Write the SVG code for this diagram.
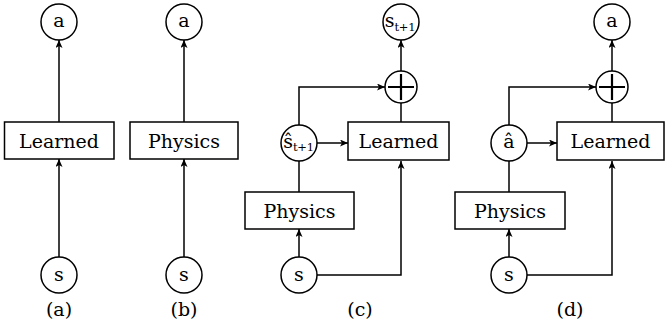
<svg xmlns="http://www.w3.org/2000/svg" width="665" height="328" viewBox="0 0 665 328">
<style>
.n{fill:#fff;stroke:#000;stroke-width:1.5}
.t{font-family:"DejaVu Serif","Liberation Serif",serif;font-size:19px;fill:#000;text-anchor:middle}
.sub{font-size:11.5px;letter-spacing:-0.3px}
.c{fill:none;stroke:#000;stroke-width:1.5}
.a{marker-end:url(#ah)}
.p{stroke:#000;stroke-width:2.2}
</style>
<defs>
<marker id="ah" viewBox="0 0 8 7" refX="8" refY="3.5" markerWidth="8" markerHeight="7" markerUnits="userSpaceOnUse" orient="auto">
<path d="M0,0 L8,3.5 L0,7 L2,3.5 z" fill="#000"/>
</marker>
</defs>
<g id="connectors">
<path class="c a" d="M59,122 V40"/>
<path class="c a" d="M59,257 V159"/>
<path class="c a" d="M184,122 V40"/>
<path class="c a" d="M184,257 V159"/>
<path class="c a" d="M299,257 V229"/>
<path class="c a" d="M299,192 V125"/>
<path class="c a" d="M317,143 H348"/>
<path class="c a" d="M299,125 V87 H385"/>
<path class="c" d="M401,122 V103"/>
<path class="c a" d="M401,71 V40"/>
<path class="c a" d="M317,275 H401 V161"/>
<path class="c a" d="M509,257 V229"/>
<path class="c a" d="M509,192 V125"/>
<path class="c a" d="M527,143 H557"/>
<path class="c a" d="M509,125 V87 H596"/>
<path class="c" d="M612,122 V103"/>
<path class="c a" d="M612,71 V40"/>
<path class="c a" d="M527,275 H612 V161"/>
</g>
<g id="a-out"><circle class="n" cx="59" cy="22" r="18"/><text class="t" x="59" y="27">a</text></g>
<g id="a-learned"><rect class="n" x="4.5" y="122" width="109.5" height="37"/><text class="t" x="59" y="148">Learned</text></g>
<g id="a-s"><circle class="n" cx="59" cy="275" r="18"/><text class="t" x="59" y="281">s</text></g>
<text class="t" x="59" y="316">(a)</text>
<g id="b-out"><circle class="n" cx="184" cy="22" r="18"/><text class="t" x="184" y="27">a</text></g>
<g id="b-physics"><rect class="n" x="130" y="122" width="108" height="37"/><text class="t" x="184" y="148">Physics</text></g>
<g id="b-s"><circle class="n" cx="184" cy="275" r="18"/><text class="t" x="184" y="281">s</text></g>
<text class="t" x="184" y="316">(b)</text>
<g id="c-out"><circle class="n" cx="401" cy="22" r="18"/><text class="t" x="400" y="27">s<tspan class="sub" dy="4">t+1</tspan></text></g>
<g id="c-plus"><circle class="n" cx="401" cy="87" r="16"/><path class="p" d="M388,87 H414 M401,74 V100"/></g>
<g id="c-learned"><rect class="n" x="348" y="122" width="101" height="38"/><text class="t" x="398.5" y="148">Learned</text></g>
<g id="c-shat"><circle class="n" cx="299" cy="143" r="18"/><text class="t" x="298.5" y="148">ŝ<tspan class="sub" dy="3">t+1</tspan></text></g>
<g id="c-physics"><rect class="n" x="245" y="192" width="109" height="37"/><text class="t" x="299.5" y="218">Physics</text></g>
<g id="c-s"><circle class="n" cx="299" cy="275" r="18"/><text class="t" x="299" y="281">s</text></g>
<text class="t" x="360" y="316">(c)</text>
<g id="d-out"><circle class="n" cx="612" cy="22" r="18"/><text class="t" x="612" y="27">a</text></g>
<g id="d-plus"><circle class="n" cx="612" cy="87" r="16"/><path class="p" d="M599,87 H625 M612,74 V100"/></g>
<g id="d-learned"><rect class="n" x="557" y="122" width="107" height="38"/><text class="t" x="610.5" y="148">Learned</text></g>
<g id="d-ahat"><circle class="n" cx="509" cy="143" r="18"/><text class="t" x="509" y="148">â</text></g>
<g id="d-physics"><rect class="n" x="455" y="192" width="110" height="37"/><text class="t" x="510" y="218">Physics</text></g>
<g id="d-s"><circle class="n" cx="509" cy="275" r="18"/><text class="t" x="509" y="281">s</text></g>
<text class="t" x="570" y="316">(d)</text>
</svg>
